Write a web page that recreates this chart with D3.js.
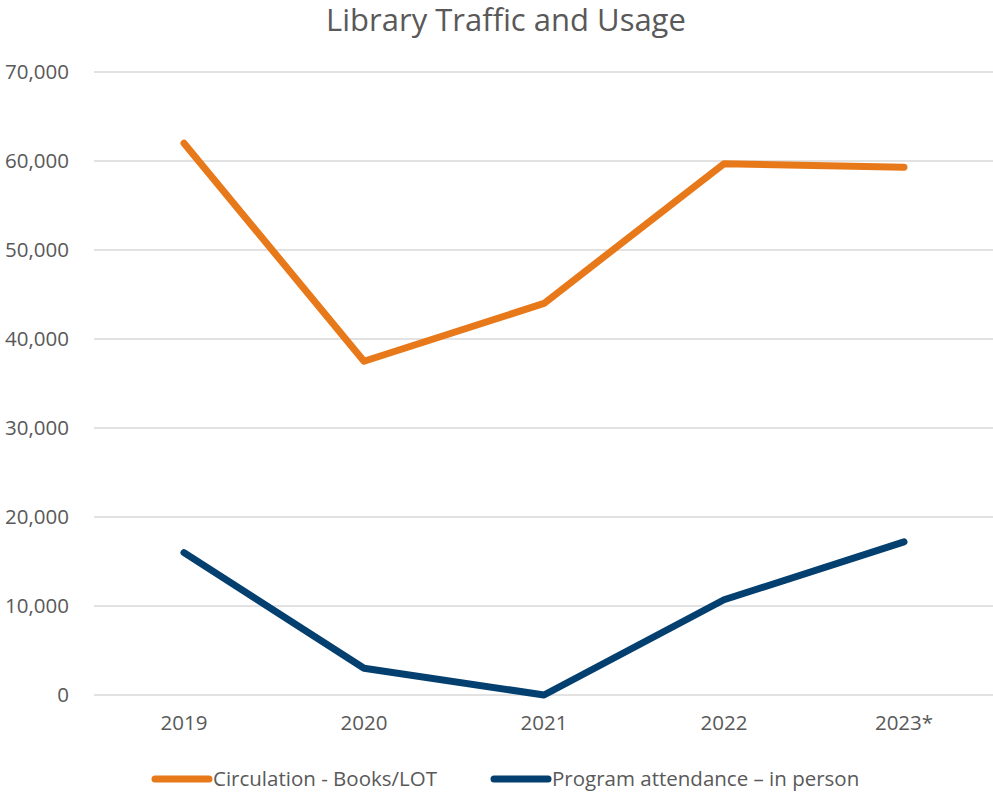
<!DOCTYPE html>
<meta charset="utf-8">
<style>
  body { margin: 0; background: #fff; }
  text { font-family: "Open Sans", "Liberation Sans", sans-serif; fill: #595959; }
  .grid line { stroke: #d9d9d9; stroke-width: 1.5px; }
</style>
<body>
<svg id="chart"></svg>
<script src="https://d3js.org/d3.v7.min.js"></script>
<script>
  var years = ["2019", "2020", "2021", "2022", "2023*"];
  var circulation = [62000, 37500, 44000, 59700, 59300];
  var attendance = [16000, 3000, 0, 10700, 17200];
  var seriesNames = ["Circulation - Books/LOT", "Program attendance \u2013 in person"];
  var seriesColors = ["#e8791a", "#033f6f"];
  var yTicks = [0, 10000, 20000, 30000, 40000, 50000, 60000, 70000];

  var width = 993, height = 793;
  var plotLeft = 94, plotRight = 994, plotTop = 72, plotBottom = 695;

  var svg = d3.select("#chart").attr("width", width).attr("height", height);

  var x = d3.scaleBand().domain(years).range([plotLeft, plotRight]);
  var y = d3.scaleLinear().domain([0, 70000]).range([plotBottom, plotTop]);

  // title
  svg.append("text")
    .attr("x", 506).attr("y", 31)
    .attr("text-anchor", "middle")
    .style("font-size", "31px")
    .text("Library Traffic and Usage");

  // gridlines
  svg.append("g").attr("class", "grid")
    .selectAll("line").data(yTicks).enter().append("line")
    .attr("x1", plotLeft).attr("x2", plotRight)
    .attr("y1", function (d) { return y(d); })
    .attr("y2", function (d) { return y(d); });

  var yAxis = svg.append("g")
    .attr("transform", "translate(" + (plotLeft - 22) + ",0)")
    .call(d3.axisLeft(y).tickValues(yTicks).tickSize(0).tickFormat(d3.format(",")));
  yAxis.select(".domain").remove();
  yAxis.selectAll("text").style("font-size", "20.5px").attr("fill", "#595959");

  var xAxis = svg.append("g")
    .attr("transform", "translate(0," + plotBottom + ")")
    .call(d3.axisBottom(x).tickSize(0).tickPadding(20));
  xAxis.select(".domain").remove();
  xAxis.selectAll("text").style("font-size", "20.5px").attr("fill", "#595959");

  var line = d3.line()
    .x(function (d, i) { return x(years[i]) + x.bandwidth() / 2; })
    .y(function (d) { return y(d); });

  [circulation, attendance].forEach(function (s, i) {
    svg.append("path")
      .datum(s)
      .attr("d", line)
      .attr("fill", "none")
      .attr("stroke", seriesColors[i])
      .attr("stroke-width", 7)
      .attr("stroke-linecap", "round")
      .attr("stroke-linejoin", "round");
  });

  // legend
  var legendX = [155, 494];
  var legend = svg.selectAll(".legend").data(seriesNames).enter().append("g")
    .attr("transform", function (d, i) { return "translate(" + legendX[i] + ",779)"; });
  legend.append("line")
    .attr("x1", 0).attr("x2", 54)
    .attr("stroke", function (d, i) { return seriesColors[i]; })
    .attr("stroke-width", 7)
    .attr("stroke-linecap", "round");
  legend.append("text")
    .attr("x", 58).attr("dy", "0.35em")
    .style("font-size", "20.5px")
    .text(function (d) { return d; });
</script>
</body>
